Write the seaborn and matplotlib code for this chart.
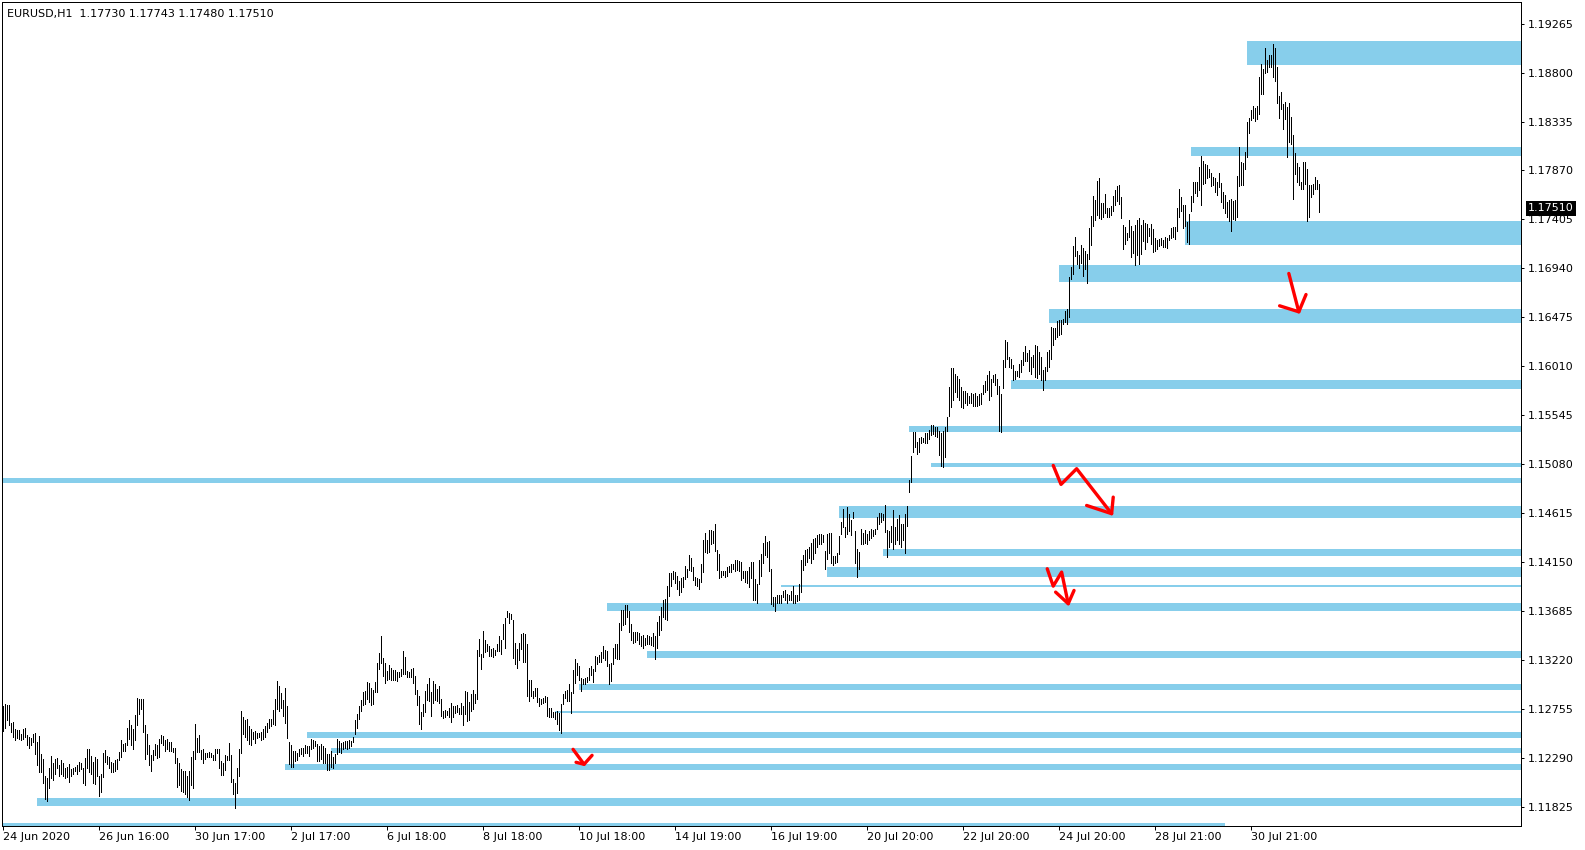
import matplotlib
matplotlib.use("Agg")
import matplotlib.pyplot as plt
import matplotlib.transforms as mtransforms
import seaborn as sns

# EURUSD H1 bars, 24 Jun - 31 Jul 2020
highs = [
    1.1278, 1.1280, 1.1279, 1.1279, 1.1262, 1.1263, 1.1257, 1.1256, 1.1256, 1.1252,
    1.1257, 1.1258, 1.1251, 1.1249, 1.1248, 1.1252, 1.1253, 1.1244, 1.1250, 1.1233,
    1.1228, 1.1212, 1.1210, 1.1220, 1.1231, 1.1224, 1.1228, 1.1229, 1.1222, 1.1227,
    1.1224, 1.1220, 1.1221, 1.1223, 1.1219, 1.1220, 1.1221, 1.1222, 1.1225, 1.1224,
    1.1220, 1.1229, 1.1238, 1.1238, 1.1231, 1.1225, 1.1230, 1.1228, 1.1212, 1.1214,
    1.1234, 1.1237, 1.1231, 1.1230, 1.1225, 1.1224, 1.1227, 1.1228, 1.1235, 1.1246,
    1.1242, 1.1243, 1.1258, 1.1265, 1.1260, 1.1257, 1.1270, 1.1286, 1.1285, 1.1285,
    1.1285, 1.1260, 1.1252, 1.1241, 1.1232, 1.1237, 1.1242, 1.1241, 1.1247, 1.1251,
    1.1250, 1.1246, 1.1247, 1.1244, 1.1244, 1.1239, 1.1239, 1.1229, 1.1224, 1.1219,
    1.1217, 1.1217, 1.1212, 1.1217, 1.1230, 1.1236, 1.1261, 1.1248, 1.1251, 1.1237,
    1.1238, 1.1234, 1.1234, 1.1235, 1.1234, 1.1232, 1.1238, 1.1238, 1.1238, 1.1226,
    1.1224, 1.1232, 1.1231, 1.1243, 1.1232, 1.1209, 1.1205, 1.1220, 1.1238, 1.1274,
    1.1268, 1.1265, 1.1266, 1.1259, 1.1257, 1.1254, 1.1255, 1.1253, 1.1253, 1.1254,
    1.1257, 1.1259, 1.1262, 1.1266, 1.1266, 1.1275, 1.1285, 1.1302, 1.1297, 1.1291,
    1.1284, 1.1296, 1.1278, 1.1244, 1.1241, 1.1236, 1.1236, 1.1234, 1.1238, 1.1239,
    1.1239, 1.1241, 1.1240, 1.1240, 1.1247, 1.1246, 1.1245, 1.1242, 1.1240, 1.1242,
    1.1240, 1.1239, 1.1233, 1.1233, 1.1236, 1.1230, 1.1233, 1.1247, 1.1245, 1.1243,
    1.1244, 1.1245, 1.1245, 1.1246, 1.1245, 1.1249, 1.1265, 1.1271, 1.1278, 1.1284,
    1.1292, 1.1293, 1.1301, 1.1300, 1.1296, 1.1294, 1.1301, 1.1319, 1.1329, 1.1345,
    1.1324, 1.1319, 1.1312, 1.1317, 1.1315, 1.1313, 1.1313, 1.1311, 1.1311, 1.1314,
    1.1331, 1.1325, 1.1312, 1.1311, 1.1314, 1.1315, 1.1307, 1.1294, 1.1288, 1.1273,
    1.1280, 1.1293, 1.1299, 1.1305, 1.1292, 1.1302, 1.1299, 1.1295, 1.1297, 1.1285,
    1.1274, 1.1275, 1.1274, 1.1277, 1.1281, 1.1278, 1.1278, 1.1279, 1.1277, 1.1281,
    1.1278, 1.1293, 1.1292, 1.1282, 1.1290, 1.1294, 1.1290, 1.1332, 1.1342, 1.1328,
    1.1350, 1.1341, 1.1337, 1.1335, 1.1333, 1.1334, 1.1332, 1.1337, 1.1345, 1.1341,
    1.1356, 1.1362, 1.1369, 1.1367, 1.1366, 1.1360, 1.1338, 1.1333, 1.1338, 1.1347,
    1.1348, 1.1347, 1.1337, 1.1303, 1.1303, 1.1293, 1.1296, 1.1296, 1.1286, 1.1285,
    1.1286, 1.1288, 1.1287, 1.1277, 1.1277, 1.1273, 1.1273, 1.1274, 1.1272, 1.1280,
    1.1290, 1.1293, 1.1294, 1.1299, 1.1292, 1.1313, 1.1323, 1.1319, 1.1316, 1.1305,
    1.1304, 1.1305, 1.1306, 1.1315, 1.1316, 1.1314, 1.1326, 1.1325, 1.1327, 1.1330,
    1.1335, 1.1332, 1.1331, 1.1318, 1.1319, 1.1334, 1.1337, 1.1337, 1.1357, 1.1370,
    1.1370, 1.1374, 1.1374, 1.1369, 1.1356, 1.1349, 1.1349, 1.1349, 1.1348, 1.1345,
    1.1346, 1.1343, 1.1346, 1.1345, 1.1344, 1.1348, 1.1345, 1.1358, 1.1364, 1.1372,
    1.1379, 1.1380, 1.1392, 1.1405, 1.1405, 1.1407, 1.1406, 1.1402, 1.1397, 1.1400,
    1.1401, 1.1411, 1.1409, 1.1422, 1.1419, 1.1410, 1.1401, 1.1400, 1.1399, 1.1413,
    1.1436, 1.1443, 1.1436, 1.1446, 1.1446, 1.1445, 1.1451, 1.1427, 1.1423, 1.1407,
    1.1407, 1.1407, 1.1410, 1.1411, 1.1413, 1.1413, 1.1417, 1.1417, 1.1416, 1.1415,
    1.1407, 1.1407, 1.1407, 1.1410, 1.1415, 1.1415, 1.1399, 1.1394, 1.1417, 1.1423,
    1.1433, 1.1440, 1.1434, 1.1435, 1.1409, 1.1382, 1.1382, 1.1384, 1.1384, 1.1384,
    1.1388, 1.1389, 1.1385, 1.1384, 1.1388, 1.1392, 1.1384, 1.1384, 1.1394, 1.1417,
    1.1422, 1.1427, 1.1428, 1.1429, 1.1433, 1.1437, 1.1438, 1.1441, 1.1442, 1.1442,
    1.1441, 1.1426, 1.1442, 1.1443, 1.1443, 1.1421, 1.1421, 1.1424, 1.1440, 1.1453,
    1.1466, 1.1448, 1.1467, 1.1461, 1.1455, 1.1463, 1.1445, 1.1428, 1.1425, 1.1447,
    1.1443, 1.1446, 1.1442, 1.1445, 1.1447, 1.1446, 1.1447, 1.1458, 1.1462, 1.1462,
    1.1461, 1.1469, 1.1446, 1.1445, 1.1449, 1.1465, 1.1448, 1.1456, 1.1460, 1.1451,
    1.1451, 1.1461, 1.1468, 1.1493, 1.1516, 1.1539, 1.1539, 1.1529, 1.1533, 1.1534,
    1.1533, 1.1538, 1.1538, 1.1541, 1.1545, 1.1545, 1.1543, 1.1543, 1.1540, 1.1538,
    1.1540, 1.1543, 1.1553, 1.1581, 1.1599, 1.1599, 1.1594, 1.1592, 1.1589, 1.1581,
    1.1578, 1.1578, 1.1576, 1.1573, 1.1576, 1.1575, 1.1576, 1.1573, 1.1575, 1.1576,
    1.1583, 1.1587, 1.1593, 1.1597, 1.1589, 1.1593, 1.1594, 1.1589, 1.1582, 1.1575,
    1.1607, 1.1626, 1.1624, 1.1610, 1.1608, 1.1602, 1.1597, 1.1597, 1.1603, 1.1607,
    1.1615, 1.1620, 1.1614, 1.1617, 1.1610, 1.1612, 1.1621, 1.1620, 1.1615, 1.1610,
    1.1598, 1.1600, 1.1615, 1.1617, 1.1638, 1.1637, 1.1637, 1.1644, 1.1645, 1.1645,
    1.1646, 1.1654, 1.1655, 1.1686, 1.1695, 1.1715, 1.1724, 1.1711, 1.1707, 1.1716,
    1.1713, 1.1711, 1.1708, 1.1732, 1.1744, 1.1763, 1.1759, 1.1777, 1.1780, 1.1756,
    1.1756, 1.1765, 1.1751, 1.1751, 1.1753, 1.1763, 1.1768, 1.1772, 1.1773, 1.1762,
    1.1735, 1.1733, 1.1728, 1.1740, 1.1734, 1.1730, 1.1735, 1.1740, 1.1742, 1.1735,
    1.1740, 1.1737, 1.1736, 1.1732, 1.1736, 1.1731, 1.1723, 1.1721, 1.1722, 1.1723,
    1.1721, 1.1724, 1.1723, 1.1726, 1.1732, 1.1733, 1.1733, 1.1751, 1.1769, 1.1762,
    1.1754, 1.1754, 1.1738, 1.1746, 1.1763, 1.1776, 1.1776, 1.1776, 1.1790, 1.1801,
    1.1796, 1.1793, 1.1792, 1.1788, 1.1785, 1.1781, 1.1780, 1.1776, 1.1785, 1.1775,
    1.1767, 1.1764, 1.1757, 1.1759, 1.1760, 1.1758, 1.1759, 1.1782, 1.1809, 1.1795,
    1.1794, 1.1805, 1.1833, 1.1837, 1.1844, 1.1848, 1.1846, 1.1848, 1.1876, 1.1888,
    1.1883, 1.1903, 1.1892, 1.1897, 1.1897, 1.1907, 1.1903, 1.1885, 1.1858, 1.1862,
    1.1850, 1.1852, 1.1847, 1.1851, 1.1838, 1.1821, 1.1804, 1.1794, 1.1790, 1.1776,
    1.1795, 1.1795, 1.1788, 1.1773, 1.1773, 1.1774, 1.1781, 1.1778, 1.1774,
]

lows = [
    1.1255, 1.1258, 1.1265, 1.1260, 1.1254, 1.1249, 1.1246, 1.1248, 1.1247, 1.1246,
    1.1247, 1.1249, 1.1241, 1.1239, 1.1241, 1.1244, 1.1233, 1.1222, 1.1216, 1.1216,
    1.1205, 1.1190, 1.1188, 1.1201, 1.1210, 1.1208, 1.1214, 1.1220, 1.1212, 1.1214,
    1.1212, 1.1210, 1.1211, 1.1206, 1.1212, 1.1214, 1.1217, 1.1214, 1.1217, 1.1219,
    1.1205, 1.1203, 1.1220, 1.1216, 1.1214, 1.1205, 1.1204, 1.1212, 1.1193, 1.1197,
    1.1211, 1.1225, 1.1223, 1.1220, 1.1216, 1.1216, 1.1217, 1.1219, 1.1227, 1.1230,
    1.1236, 1.1236, 1.1241, 1.1247, 1.1241, 1.1238, 1.1246, 1.1260, 1.1271, 1.1276,
    1.1254, 1.1228, 1.1233, 1.1222, 1.1217, 1.1227, 1.1232, 1.1229, 1.1230, 1.1243,
    1.1241, 1.1236, 1.1238, 1.1236, 1.1236, 1.1235, 1.1224, 1.1202, 1.1203, 1.1198,
    1.1197, 1.1195, 1.1192, 1.1189, 1.1203, 1.1201, 1.1228, 1.1235, 1.1235, 1.1228,
    1.1224, 1.1228, 1.1230, 1.1230, 1.1230, 1.1227, 1.1227, 1.1234, 1.1220, 1.1213,
    1.1213, 1.1218, 1.1227, 1.1227, 1.1206, 1.1195, 1.1182, 1.1196, 1.1212, 1.1234,
    1.1252, 1.1249, 1.1246, 1.1242, 1.1241, 1.1247, 1.1243, 1.1248, 1.1249, 1.1246,
    1.1247, 1.1249, 1.1254, 1.1258, 1.1259, 1.1261, 1.1260, 1.1276, 1.1274, 1.1277,
    1.1269, 1.1262, 1.1248, 1.1223, 1.1221, 1.1221, 1.1226, 1.1227, 1.1231, 1.1233,
    1.1231, 1.1234, 1.1234, 1.1231, 1.1238, 1.1239, 1.1240, 1.1226, 1.1226, 1.1228,
    1.1224, 1.1224, 1.1218, 1.1218, 1.1221, 1.1220, 1.1224, 1.1233, 1.1235, 1.1234,
    1.1238, 1.1239, 1.1238, 1.1239, 1.1240, 1.1244, 1.1252, 1.1258, 1.1266, 1.1274,
    1.1279, 1.1280, 1.1285, 1.1282, 1.1279, 1.1280, 1.1292, 1.1292, 1.1314, 1.1319,
    1.1307, 1.1300, 1.1303, 1.1304, 1.1303, 1.1303, 1.1303, 1.1302, 1.1306, 1.1307,
    1.1309, 1.1309, 1.1306, 1.1306, 1.1306, 1.1300, 1.1290, 1.1279, 1.1261, 1.1257,
    1.1269, 1.1273, 1.1284, 1.1283, 1.1269, 1.1281, 1.1284, 1.1283, 1.1281, 1.1269,
    1.1267, 1.1268, 1.1270, 1.1268, 1.1263, 1.1268, 1.1272, 1.1273, 1.1271, 1.1271,
    1.1260, 1.1271, 1.1264, 1.1265, 1.1274, 1.1276, 1.1281, 1.1285, 1.1326, 1.1314,
    1.1325, 1.1330, 1.1331, 1.1326, 1.1326, 1.1325, 1.1327, 1.1331, 1.1331, 1.1328,
    1.1342, 1.1334, 1.1363, 1.1357, 1.1361, 1.1324, 1.1318, 1.1315, 1.1322, 1.1333,
    1.1320, 1.1320, 1.1288, 1.1283, 1.1288, 1.1286, 1.1288, 1.1282, 1.1278, 1.1280,
    1.1281, 1.1282, 1.1269, 1.1268, 1.1268, 1.1268, 1.1266, 1.1261, 1.1256, 1.1253,
    1.1280, 1.1286, 1.1283, 1.1283, 1.1272, 1.1291, 1.1300, 1.1308, 1.1303, 1.1293,
    1.1299, 1.1299, 1.1301, 1.1303, 1.1308, 1.1301, 1.1312, 1.1318, 1.1320, 1.1320,
    1.1324, 1.1322, 1.1316, 1.1299, 1.1302, 1.1318, 1.1324, 1.1323, 1.1323, 1.1351,
    1.1355, 1.1356, 1.1363, 1.1349, 1.1341, 1.1338, 1.1339, 1.1341, 1.1337, 1.1335,
    1.1334, 1.1336, 1.1337, 1.1337, 1.1336, 1.1335, 1.1323, 1.1334, 1.1346, 1.1351,
    1.1363, 1.1361, 1.1360, 1.1383, 1.1392, 1.1399, 1.1395, 1.1390, 1.1384, 1.1387,
    1.1391, 1.1399, 1.1401, 1.1408, 1.1407, 1.1398, 1.1393, 1.1392, 1.1390, 1.1396,
    1.1406, 1.1425, 1.1424, 1.1425, 1.1432, 1.1433, 1.1426, 1.1408, 1.1400, 1.1401,
    1.1403, 1.1401, 1.1402, 1.1406, 1.1406, 1.1409, 1.1407, 1.1408, 1.1407, 1.1398,
    1.1400, 1.1396, 1.1395, 1.1391, 1.1400, 1.1379, 1.1379, 1.1376, 1.1394, 1.1402,
    1.1414, 1.1422, 1.1420, 1.1407, 1.1375, 1.1373, 1.1369, 1.1376, 1.1376, 1.1376,
    1.1382, 1.1379, 1.1376, 1.1379, 1.1379, 1.1376, 1.1376, 1.1378, 1.1379, 1.1387,
    1.1408, 1.1412, 1.1415, 1.1419, 1.1414, 1.1418, 1.1424, 1.1429, 1.1432, 1.1432,
    1.1434, 1.1409, 1.1418, 1.1424, 1.1414, 1.1412, 1.1414, 1.1415, 1.1423, 1.1442,
    1.1448, 1.1439, 1.1442, 1.1445, 1.1441, 1.1457, 1.1414, 1.1401, 1.1409, 1.1432,
    1.1432, 1.1433, 1.1432, 1.1436, 1.1438, 1.1440, 1.1442, 1.1447, 1.1451, 1.1453,
    1.1455, 1.1444, 1.1420, 1.1429, 1.1434, 1.1428, 1.1432, 1.1436, 1.1432, 1.1429,
    1.1436, 1.1424, 1.1449, 1.1482, 1.1491, 1.1520, 1.1524, 1.1518, 1.1520, 1.1528,
    1.1529, 1.1528, 1.1528, 1.1532, 1.1536, 1.1537, 1.1535, 1.1534, 1.1517, 1.1506,
    1.1505, 1.1515, 1.1540, 1.1554, 1.1562, 1.1569, 1.1577, 1.1572, 1.1569, 1.1562,
    1.1561, 1.1566, 1.1564, 1.1566, 1.1566, 1.1563, 1.1563, 1.1563, 1.1564, 1.1565,
    1.1575, 1.1577, 1.1579, 1.1569, 1.1573, 1.1586, 1.1583, 1.1575, 1.1540, 1.1539,
    1.1580, 1.1600, 1.1608, 1.1600, 1.1599, 1.1588, 1.1589, 1.1592, 1.1591, 1.1596,
    1.1602, 1.1606, 1.1606, 1.1597, 1.1594, 1.1600, 1.1591, 1.1590, 1.1594, 1.1588,
    1.1579, 1.1588, 1.1597, 1.1600, 1.1608, 1.1621, 1.1627, 1.1629, 1.1631, 1.1632,
    1.1641, 1.1643, 1.1641, 1.1648, 1.1684, 1.1689, 1.1706, 1.1698, 1.1694, 1.1699,
    1.1687, 1.1693, 1.1680, 1.1703, 1.1716, 1.1734, 1.1740, 1.1745, 1.1742, 1.1741,
    1.1743, 1.1747, 1.1743, 1.1743, 1.1745, 1.1749, 1.1754, 1.1758, 1.1755, 1.1742,
    1.1712, 1.1717, 1.1721, 1.1724, 1.1705, 1.1709, 1.1697, 1.1707, 1.1698, 1.1708,
    1.1720, 1.1712, 1.1719, 1.1725, 1.1717, 1.1710, 1.1711, 1.1712, 1.1715, 1.1716,
    1.1714, 1.1714, 1.1713, 1.1721, 1.1723, 1.1724, 1.1722, 1.1730, 1.1743, 1.1749,
    1.1732, 1.1734, 1.1719, 1.1717, 1.1749, 1.1757, 1.1766, 1.1763, 1.1768, 1.1754,
    1.1774, 1.1775, 1.1780, 1.1781, 1.1772, 1.1773, 1.1767, 1.1764, 1.1771, 1.1757,
    1.1751, 1.1747, 1.1743, 1.1739, 1.1730, 1.1741, 1.1740, 1.1743, 1.1772, 1.1773,
    1.1773, 1.1788, 1.1800, 1.1823, 1.1835, 1.1837, 1.1834, 1.1836, 1.1841, 1.1860,
    1.1860, 1.1880, 1.1881, 1.1885, 1.1885, 1.1876, 1.1872, 1.1851, 1.1837, 1.1845,
    1.1826, 1.1836, 1.1800, 1.1814, 1.1812, 1.1760, 1.1784, 1.1776, 1.1773, 1.1769,
    1.1769, 1.1774, 1.1739, 1.1743, 1.1762, 1.1765, 1.1769, 1.1769, 1.1748,
]

# horizontal zones drawn on the chart: first bar, top price, bottom price, last bar
zone_start = [622, 594, 591, 528, 523, 504, 453, 464, -1, 418, 440,
              412, 389, 302, 322, 288, 276, 152, 164, 141, 17, -1]
zone_top = [1.19095, 1.18093, 1.17389, 1.16977, 1.16558, 1.15883, 1.15439,
            1.15090, 1.14954, 1.14682, 1.14279, 1.14108, 1.13938, 1.13767,
            1.13310, 1.12994, 1.12741, 1.12541, 1.12383, 1.12231, 1.11909,
            1.11670]
zone_bottom = [1.18870, 1.18005, 1.17167, 1.16809, 1.16419, 1.15794, 1.15385,
               1.15052, 1.14900, 1.14567, 1.14212, 1.14013, 1.13913, 1.13691,
               1.13238, 1.12940, 1.12722, 1.12478, 1.12342, 1.12180, 1.11839,
               1.11630]
zone_end = [760] * 21 + [611]

# price scale and time labels
price_ticks = [1.19265, 1.18800, 1.18335, 1.17870, 1.17405, 1.16940, 1.16475,
               1.16010, 1.15545, 1.15080, 1.14615, 1.14150, 1.13685, 1.13220,
               1.12755, 1.12290, 1.11825]
date_tick_bars = [0, 48, 96, 144, 192, 240, 288, 336, 384, 432, 480, 528, 576, 624]
date_labels = ["24 Jun 2020", "26 Jun 16:00", "30 Jun 17:00", "2 Jul 17:00",
               "6 Jul 18:00", "8 Jul 18:00", "10 Jul 18:00", "14 Jul 19:00",
               "16 Jul 19:00", "20 Jul 20:00", "22 Jul 20:00", "24 Jul 20:00",
               "28 Jul 21:00", "30 Jul 21:00"]
last_price = 1.17510
header = "EURUSD,H1  1.17730 1.17743 1.17480 1.17510"

# hand drawn red arrows (bar, price)
arrows = [
    ([642.8, 647.8], [1.16892, 1.16528]),
    ([638.2, 647.8, 651.4], [1.16585, 1.16528, 1.16692]),
    ([525.0, 528.9, 536.7, 554.2], [1.15069, 1.14889, 1.15038, 1.14611]),
    ([541.7, 554.2, 555.0], [1.14689, 1.14611, 1.14768]),
    ([522.0, 525.0, 529.2, 532.5], [1.14088, 1.13923, 1.14056, 1.13756]),
    ([526.2, 532.5, 535.4], [1.13866, 1.13756, 1.13882]),
    ([284.9, 290.4], [1.12373, 1.12231]),
    ([294.4, 290.4, 286.4], [1.12316, 1.12231, 1.12250]),
]

assert len(highs) == len(lows)

sns.set_theme(style="white")
plt.rcParams["font.family"] = ["DejaVu Sans"]

fig = plt.figure(figsize=(15.85, 8.5), dpi=100)
ax = fig.add_axes([2.3 / 1585, 24 / 850, 1518.7 / 1585, 824 / 850])
ax.set_facecolor("white")

# zones
for s, t, b, e in zip(zone_start, zone_top, zone_bottom, zone_end):
    ax.barh(b, e - s, height=t - b, left=s, align="edge",
            color="#87CEEB", linewidth=0, zorder=1)

# bars (high-low), one pixel wide like the terminal draws them
bar_index = list(range(len(highs)))
ax.vlines(bar_index, lows, highs, colors="black", linewidth=0.5,
          antialiased=False, zorder=3)

# red arrows
for xs, ys in arrows:
    ax.plot(xs, ys, color="#ff0000", linewidth=2.4, solid_capstyle="round",
            solid_joinstyle="round", zorder=4)

ax.set_xlim(-0.5, 758.9)
ax.set_ylim(1.11645, 1.19470)

# price axis on the right
ax.yaxis.tick_right()
ax.set_yticks(price_ticks)
ax.set_yticklabels([f"{p:.5f}" for p in price_ticks])
ax.tick_params(axis="y", direction="out", length=2.2, width=0.72, pad=2.9,
               labelsize=8, colors="black", right=True, left=False)

# time axis, labels start at the tick
ax.set_xticks(date_tick_bars)
ax.set_xticklabels(date_labels)
ax.tick_params(axis="x", direction="out", length=2.9, width=0.72, pad=1.4,
               labelsize=8, colors="black", bottom=True)
for lbl in ax.get_xticklabels():
    lbl.set_horizontalalignment("left")

for sp in ax.spines.values():
    sp.set_visible(True)
    sp.set_color("black")
    sp.set_linewidth(0.72)

ax.grid(False)

# current price tag
trans = mtransforms.blended_transform_factory(ax.transAxes, ax.transData)
ax.text(1.0046, last_price, f"{last_price:.5f}", transform=trans,
        ha="left", va="center", fontsize=8, color="white", clip_on=False,
        zorder=6, bbox=dict(facecolor="black", edgecolor="none", pad=1.6))

# symbol header
ax.text(0.0031, 0.986, header, transform=ax.transAxes, ha="left", va="center",
        fontsize=8, color="black", zorder=6)

fig.savefig("out.png", dpi=100)
